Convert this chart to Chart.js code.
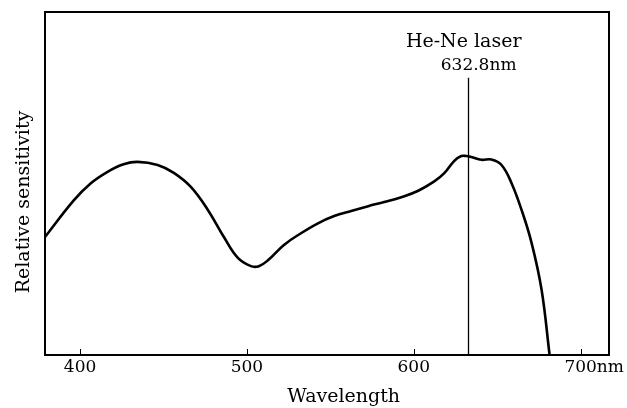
<!DOCTYPE html>
<html lang="en">
<head>
    <meta charset="UTF-8">
    <title>Relative sensitivity vs wavelength</title>
    <script src="https://cdn.jsdelivr.net/npm/chart.js@4.4.1/dist/chart.umd.min.js"></script>
    <style>
        body { margin: 0; background: #fff; }
        #wrap { width: 627px; height: 408px; }
    </style>
</head>
<body>
    <div id="wrap"><canvas id="chart" width="627" height="408"></canvas></div>

    <script>
        // Data (wavelength in nm, sensitivity in % of the frame height)
        const wavelength = [379, 396.1, 406.3, 416.5, 426.1, 434.5, 446.5, 456.2, 466.4, 476.6,
            486.2, 494.6, 502.4, 507.2, 512.6, 522.2, 532.4, 542.6, 552.3, 562.5,
            572.7, 582.3, 592.5, 602.7, 612.3, 618.3, 624.3, 628.5, 631.5, 634.5,
            640.5, 646.5, 652.6, 658.6, 664.6, 670.6, 676.6, 681.4];
        const sensitivity = [34.4, 45.0, 50.0, 53.4, 55.6, 56.3, 55.4, 53.1, 49.0, 42.3,
            34.4, 28.3, 25.9, 25.9, 27.6, 32.1, 35.5, 38.4, 40.5, 42.0,
            43.4, 44.6, 46.0, 47.9, 50.6, 53.0, 56.6, 58.0, 58.0, 57.7,
            56.9, 57.0, 55.4, 50.1, 42.3, 32.7, 19.0, 0];

        const laserWavelength = 632.8;
        const laserRange = [0, 80.8];
        const tickValues = [400, 500, 600, 700];

        const serif = '"DejaVu Serif", serif';

        // frame, inward tick marks, titles and the laser note
        const decorations = {
            id: 'decorations',
            afterDraw(chart) {
                const { ctx, chartArea: a, scales: { x } } = chart;
                ctx.save();
                ctx.strokeStyle = '#000';
                ctx.fillStyle = '#000';

                ctx.lineWidth = 2;
                ctx.strokeRect(a.left, a.top, a.right - a.left, a.bottom - a.top);

                ctx.lineWidth = 1;
                tickValues.forEach(v => {
                    const px = Math.round(x.getPixelForValue(v)) + 0.5;
                    ctx.beginPath();
                    ctx.moveTo(px, a.bottom);
                    ctx.lineTo(px, a.bottom - 6);
                    ctx.stroke();
                });

                // unit after the last tick label, on the same line as the labels
                const lbl = x._labelItems ? x._labelItems[x._labelItems.length - 1] : null;
                ctx.font = '17px ' + serif;
                ctx.textAlign = 'left';
                const last = tickValues[tickValues.length - 1];
                const lastPx = x.getPixelForValue(last);
                if (lbl) {
                    ctx.textBaseline = lbl.options.textBaseline;
                    ctx.fillText('nm', lastPx + ctx.measureText(String(last)).width / 2, lbl.options.translation[1] + lbl.textOffset);
                } else {
                    ctx.textBaseline = 'middle';
                    ctx.fillText('nm', lastPx + ctx.measureText(String(last)).width / 2, 366);
                }

                // axis titles
                ctx.font = '19px ' + serif;
                ctx.textAlign = 'center';
                ctx.textBaseline = 'alphabetic';
                ctx.fillText('Wavelength', x.getPixelForValue(558), 402);

                ctx.save();
                ctx.translate(24, 202);
                ctx.rotate(-Math.PI / 2);
                ctx.textBaseline = 'middle';
                ctx.fillText('Relative sensitivity', 0, 0);
                ctx.restore();

                // laser label
                const lx = x.getPixelForValue(laserWavelength);
                ctx.textAlign = 'right';
                ctx.textBaseline = 'alphabetic';
                ctx.font = '19px ' + serif;
                ctx.fillText('He-Ne laser', lx + 53, 47);
                ctx.font = '17px ' + serif;
                ctx.fillText(laserWavelength + 'nm', lx + 48, 70);

                ctx.restore();
            }
        };

        new Chart(document.getElementById('chart'), {
            type: 'line',
            data: {
                datasets: [{
                    data: wavelength.map((w, i) => ({ x: w, y: sensitivity[i] })),
                    borderColor: '#000',
                    borderWidth: 2.6,
                    pointRadius: 0,
                    tension: 0.4,
                    fill: false
                }, {
                    data: laserRange.map(v => ({ x: laserWavelength, y: v })),
                    borderColor: '#000',
                    borderWidth: 1.3,
                    pointRadius: 0,
                    tension: 0
                }]
            },
            options: {
                responsive: false,
                animation: false,
                events: [],
                layout: { padding: { left: 45, right: 18, top: 12, bottom: 0 } },
                plugins: {
                    legend: { display: false },
                    tooltip: { enabled: false }
                },
                scales: {
                    x: {
                        type: 'linear',
                        min: 379,
                        max: 717,
                        afterBuildTicks: s => { s.ticks = tickValues.map(v => ({ value: v })); },
                        afterFit: s => { s.height = 53; },
                        grid: { display: false, drawTicks: false },
                        border: { display: false },
                        ticks: {
                            color: '#000',
                            font: { family: serif, size: 17 },
                            padding: 2,
                            maxRotation: 0,
                            autoSkip: false
                        }
                    },
                    y: {
                        display: false,
                        min: 0,
                        max: 100
                    }
                }
            },
            plugins: [decorations]
        });
    </script>
</body>
</html>
